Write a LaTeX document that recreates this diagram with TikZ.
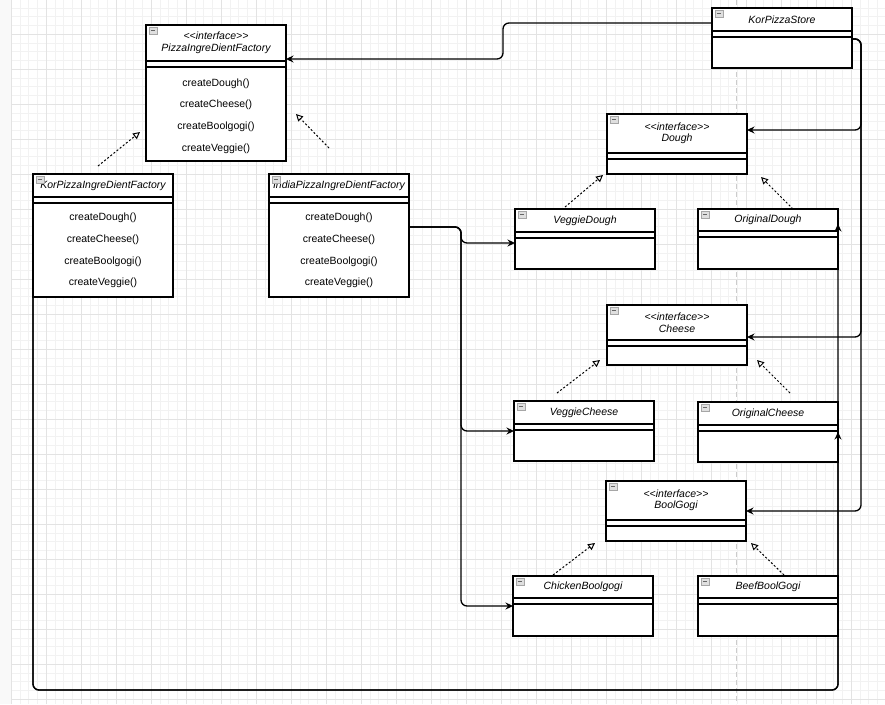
\documentclass[tikz,border=0pt]{standalone}
\usepackage{fontspec}
\setmainfont{Liberation Sans}
\usetikzlibrary{arrows.meta}
\newcommand{\umlbox}[6]{%
  \node[cls, minimum height=#4pt, anchor=north west] (#1) at (#2,#3) {};
  \node[ttl] at ([yshift={-#5pt/2}]#1.north) {#6};
  \draw[cmp] ([yshift=-#5pt]#1.north west) -- ([yshift=-#5pt]#1.north east);
  \draw[cmp] ([yshift={-#5pt-6pt}]#1.north west) -- ([yshift={-#5pt-6pt}]#1.north east);
  \node[foldicon] at ([shift={(7pt,-5.5pt)}]#1.north west) {};}
\newcommand{\iface}[1]{<{}<interface>{}>\\#1}

\begin{document}
\begin{tikzpicture}[x=1pt,y=-1pt,
  cls/.style={draw, fill=white, line width=1.1pt, minimum width=140pt, inner sep=0pt, outer sep=0pt},
  cmp/.style={line width=1.1pt},
  ttl/.style={font=\fontsize{10.5}{11.5}\selectfont\itshape, align=center, inner sep=0pt},
  meth/.style={font=\fontsize{10.5}{21.8}\selectfont, align=center, inner sep=0pt},
  foldicon/.style={draw=gray!70, fill=gray!25, line width=0.5pt, minimum width=8pt, minimum height=7pt, inner sep=0pt,
    path picture={\draw[gray!80!black, line width=0.8pt] ([xshift=1.8pt]path picture bounding box.west) -- ([xshift=-1.8pt]path picture bounding box.east);}},
  arr/.style={-{Stealth[length=7.5pt,width=7pt]}, line width=1.3pt, rounded corners=6pt},
  real/.style={-{Triangle[open,length=7pt,width=7pt]}, line width=1pt, dash pattern=on 2pt off 2pt},
  minor/.style={draw=gray!10, line width=0.5pt},
  major/.style={draw=gray!22, line width=0.6pt},
  brk/.style={draw=gray!40, line width=0.8pt, dash pattern=on 5pt off 3pt}]
\useasboundingbox (0,0) rectangle (885,704);
\fill[white] (0,0) rectangle (885,704);
\fill[gray!5] (0,0) rectangle (11,704);
\draw[gray!25] (11,0) -- (11,704);
\begin{scope}[shift={(11,-1)}]
\draw[minor, step=8.75pt] (0,1) grid (874,705);
\draw[major, step=35pt] (0,1) grid (874,705);
\end{scope}
\draw[brk] (736,0) -- (736,704);

\umlbox{PF}{146}{25}{136}{36}{\iface{PizzaIngreDientFactory}}
\umlbox{KF}{33}{174}{123}{23}{KorPizzaIngreDientFactory}
\umlbox{IF}{269}{174}{123}{23}{IndiaPizzaIngreDientFactory}
\umlbox{KS}{712}{8}{60}{23}{KorPizzaStore}
\umlbox{DI}{607}{114}{60}{39}{\iface{Dough}}
\umlbox{VD}{515}{209}{60}{23}{VeggieDough}
\umlbox{OD}{698}{209}{60}{22}{OriginalDough}
\umlbox{CI}{607}{305}{60}{35}{\iface{Cheese}}
\umlbox{VC}{514}{401}{60}{23}{VeggieCheese}
\umlbox{OC}{698}{402}{60}{23}{OriginalCheese}
\umlbox{BI}{606}{481}{60}{39}{\iface{BoolGogi}}
\umlbox{CB}{513}{576}{60}{22}{ChickenBoolgogi}
\umlbox{BB}{698}{576}{60}{22}{BeefBoolGogi}
\node[meth] (PFm) at (216,116) {createDough()\\createCheese()\\createBoolgogi()\\createVeggie()};
\node[meth] (KFm) at (103,250.5) {createDough()\\createCheese()\\createBoolgogi()\\createVeggie()};
\node[meth] (IFm) at (339,250.5) {createDough()\\createCheese()\\createBoolgogi()\\createVeggie()};

\draw[real] ([shift={(-5pt,8pt)}]KF.north) -- ([shift={(-6pt,29pt)}]PF.south west);
\draw[real] ([shift={(-10pt,26pt)}]IF.north) -- ([shift={(10pt,47pt)}]PF.south east);
\draw[real] ([shift={(-20pt,2pt)}]VD.north) -- ([shift={(-4pt,-1pt)}]DI.south west);
\draw[real] ([shift={(25pt,0pt)}]OD.north) -- ([shift={(14pt,-3pt)}]DI.south east);
\draw[real] ([shift={(-27pt,8pt)}]VC.north) -- ([shift={(-7pt,5pt)}]CI.south west);
\draw[real] ([shift={(22pt,9pt)}]OC.north) -- ([shift={(10pt,5pt)}]CI.south east);
\draw[real] ([shift={(-30pt,1pt)}]CB.north) -- ([shift={(-11pt,-2pt)}]BI.south west);
\draw[real] ([shift={(16pt,1pt)}]BB.north) -- ([shift={(5pt,-2pt)}]BI.south east);

\draw[arr] ([yshift=15pt]KS.west) -- ++(-209,0) |- ([yshift=34pt]PF.east);
\draw[arr] ([yshift=-1pt]KS.east) -- ++(9,0) |- ([yshift=14pt]DI.east);
\draw[arr] ([yshift=-1pt]KS.east) -- ++(9,0) |- ([yshift=-2pt]CI.east);
\draw[arr] ([yshift=-1pt]KS.east) -- ++(9,0) |- (BI.east);
\draw[arr] ([yshift=8.5pt]IF.east) -- ++(52,0) |- ([yshift=-4pt]VD.west);
\draw[arr] ([yshift=8.5pt]IF.east) -- ++(52,0) |- (VC.west);
\draw[arr] ([yshift=8.5pt]IF.east) -- ++(52,0) |- (CB.west);
\draw[arr] (KF.south west) -- ++(0,393) -| ([yshift=15pt]OD.east);
\draw[arr] (KF.south west) -- ++(0,393) -| (OC.east);
\end{tikzpicture}
\end{document}
